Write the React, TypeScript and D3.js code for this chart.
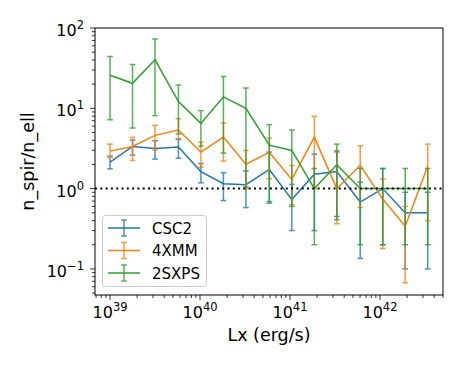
import React, { useEffect, useRef } from 'react';
import * as d3 from 'd3';

// bin centres, log10(Lx)
const logLx = [39.0, 39.25, 39.5, 39.76, 40.01, 40.26, 40.51, 40.77, 41.02, 41.27, 41.52, 41.78, 42.03, 42.28, 42.53];

const cscVal = [2.13, 3.35, 3.16, 3.29, 1.63, 1.15, 1.12, 1.73, 0.73, 1.51, 1.63, 0.68, 1.0, 0.5, 0.5];
const cscHi = [2.54, 4.02, 3.94, 4.1, 2.05, 1.58, 1.66, 2.85, 1.13, 2.69, 2.87, 1.2, 1.78, 0.9, 0.9];
const cscLo = [1.76, 2.61, 2.33, 2.39, 1.18, 0.71, 0.58, 0.66, 0.3, 0.3, 0.45, 0.135, 0.2, 0.1, 0.1];

const xmmVal = [2.93, 3.35, 4.6, 5.36, 2.85, 4.38, 2.01, 2.82, 1.3, 4.38, 1.0, 1.95, 0.74, 0.34, 1.9];
const xmmHi = [3.58, 4.34, 6.13, 7.43, 3.8, 6.56, 2.99, 4.26, 1.94, 7.94, 2.99, 3.41, 1.32, 0.6, 3.58];
const xmmLo = [2.44, 2.24, 3.01, 4.2, 1.85, 2.2, 1.0, 1.33, 0.63, 1.0, 0.365, 0.58, 0.18, 0.067, 0.4];

const sxpsVal = [25.8, 20.5, 40.2, 12.1, 6.49, 13.9, 10.0, 3.48, 2.99, 1.0, 1.98, 1.0, 1.0, 1.0, 1.0];
const sxpsHi = [44.2, 35.1, 72.9, 19.5, 9.35, 24.9, 17.9, 6.25, 5.36, 1.78, 3.58, 1.78, 1.78, 1.78, 1.78];
const sxpsLo = [7.2, 5.68, 8.1, 4.8, 3.38, 2.77, 1.05, 0.69, 0.6, 0.2, 0.41, 0.2, 0.2, 0.2, 0.2];

const seriesNames = ['CSC2', '4XMM', '2SXPS'];
const seriesColors = ['#1f77b4', '#ff7f0e', '#2ca02c'];

const xTickExps = [39, 40, 41, 42];
const yTickExps = [-1, 0, 1, 2];

function App() {
  const ref = useRef<SVGSVGElement>(null);

  useEffect(() => {
    const W = 463, H = 371;
    const L = 95, R = 443, T = 28, B = 295;
    const svg = d3.select(ref.current).attr('width', W).attr('height', H);
    svg.selectAll('*').remove();
    const font = 'DejaVu Sans, sans-serif';

    const x = d3.scaleLog().domain([Math.pow(10, 38.833), Math.pow(10, 42.7)]).range([L, R]);
    const y = d3.scaleLog().domain([Math.pow(10, -1.325), 100]).range([B, T]);

    svg.append('rect').attr('width', W).attr('height', H).attr('fill', '#fff');

    const clip = svg.append('clipPath').attr('id', 'plotclip');
    clip.append('rect').attr('x', L).attr('y', T).attr('width', R - L).attr('height', B - T);

    const series = [
      { v: cscVal, hi: cscHi, lo: cscLo },
      { v: xmmVal, hi: xmmHi, lo: xmmLo },
      { v: sxpsVal, hi: sxpsHi, lo: sxpsLo },
    ];

    const plot = svg.append('g').attr('clip-path', 'url(#plotclip)');
    const cap = 2.8;
    series.forEach((s, k) => {
      const c = seriesColors[k];
      const g = plot.append('g');
      const pts = logLx.map((lx, i) => ({ x: x(Math.pow(10, lx)), v: s.v[i], hi: s.hi[i], lo: s.lo[i] }));
      const eb = g.append('g').attr('stroke', c).attr('stroke-width', 1.5).attr('opacity', 0.8);
      pts.forEach(p => {
        eb.append('line').attr('x1', p.x).attr('x2', p.x).attr('y1', y(p.hi)).attr('y2', y(p.lo));
        eb.append('line').attr('x1', p.x - cap).attr('x2', p.x + cap).attr('y1', y(p.hi)).attr('y2', y(p.hi));
        eb.append('line').attr('x1', p.x - cap).attr('x2', p.x + cap).attr('y1', y(p.lo)).attr('y2', y(p.lo));
      });
      const line = d3.line<any>().x(p => p.x).y(p => y(p.v));
      g.append('path').attr('d', line(pts)).attr('fill', 'none').attr('stroke', c).attr('stroke-width', 1.5);
    });

    // reference line at 1
    plot.append('line').attr('x1', L).attr('x2', R).attr('y1', y(1)).attr('y2', y(1))
      .attr('stroke', '#000').attr('stroke-width', 2).attr('stroke-dasharray', '2,3.3');

    // minor ticks
    const minorX: number[] = [];
    const minorY: number[] = [];
    for (let e = 38; e <= 42; e++) for (let m = 2; m <= 9; m++) {
      const v = m * Math.pow(10, e);
      if (v > x.domain()[0] && v < x.domain()[1]) minorX.push(v);
    }
    for (let e = -2; e <= 1; e++) for (let m = 2; m <= 9; m++) {
      const v = m * Math.pow(10, e);
      if (v > y.domain()[0] && v < y.domain()[1]) minorY.push(v);
    }
    const ax = svg.append('g').attr('stroke', '#000').attr('stroke-width', 0.8);
    minorX.forEach(v => ax.append('line').attr('x1', x(v)).attr('x2', x(v)).attr('y1', B).attr('y2', B + 3));
    minorY.forEach(v => ax.append('line').attr('x1', L).attr('x2', L - 3).attr('y1', y(v)).attr('y2', y(v)));
    xTickExps.forEach(e => {
      const px = x(Math.pow(10, e));
      ax.append('line').attr('x1', px).attr('x2', px).attr('y1', B).attr('y2', B + 5);
    });
    yTickExps.forEach(e => {
      const py = y(Math.pow(10, e));
      ax.append('line').attr('x1', L).attr('x2', L - 5).attr('y1', py).attr('y2', py);
    });

    svg.append('rect').attr('x', L).attr('y', T).attr('width', R - L).attr('height', B - T)
      .attr('fill', 'none').attr('stroke', '#000').attr('stroke-width', 1);

    // tick labels
    const supLabel = (g: any, e: number) => {
      g.append('tspan').text('10');
      g.append('tspan').attr('dy', -7).attr('font-size', 11.5).text(e < 0 ? '\u2212' + Math.abs(e) : String(e));
    };
    xTickExps.forEach(e => {
      const t = svg.append('text').attr('x', x(Math.pow(10, e))).attr('y', 318)
        .attr('text-anchor', 'middle').attr('font-family', font).attr('font-size', 16);
      supLabel(t, e);
    });
    yTickExps.forEach(e => {
      const t = svg.append('text').attr('x', 84).attr('y', y(Math.pow(10, e)) + 8)
        .attr('text-anchor', 'end').attr('font-family', font).attr('font-size', 16);
      supLabel(t, e);
    });

    svg.append('text').attr('x', (L + R) / 2).attr('y', 341).attr('text-anchor', 'middle')
      .attr('font-family', font).attr('font-size', 17.5).text('Lx (erg/s)');
    svg.append('text').attr('transform', `translate(34,${(T + B) / 2}) rotate(-90)`).attr('text-anchor', 'middle')
      .attr('font-family', font).attr('font-size', 17.5).text('n_spir/n_ell');

    // legend
    const lg = svg.append('g');
    lg.append('rect').attr('x', 102.5).attr('y', 215.5).attr('width', 104).attr('height', 71).attr('rx', 3)
      .attr('fill', '#fff').attr('fill-opacity', 0.8).attr('stroke', '#ccc').attr('stroke-width', 1);
    seriesNames.forEach((name, k) => {
      const cy = 228 + k * 22.5;
      const c = seriesColors[k];
      lg.append('line').attr('x1', 108).attr('x2', 140).attr('y1', cy).attr('y2', cy).attr('stroke', c).attr('stroke-width', 1.5);
      const eb = lg.append('g').attr('stroke', c).attr('stroke-width', 1.5).attr('opacity', 0.8);
      eb.append('line').attr('x1', 124).attr('x2', 124).attr('y1', cy - 8).attr('y2', cy + 8);
      eb.append('line').attr('x1', 124 - cap).attr('x2', 124 + cap).attr('y1', cy - 8).attr('y2', cy - 8);
      eb.append('line').attr('x1', 124 - cap).attr('x2', 124 + cap).attr('y1', cy + 8).attr('y2', cy + 8);
      lg.append('text').attr('x', 152).attr('y', cy + 5.5).attr('font-family', font).attr('font-size', 15).text(name);
    });
  }, []);

  return <svg ref={ref} style={{ position: 'absolute', left: 0, top: 0, display: 'block' }}></svg>;
}

export default App;
